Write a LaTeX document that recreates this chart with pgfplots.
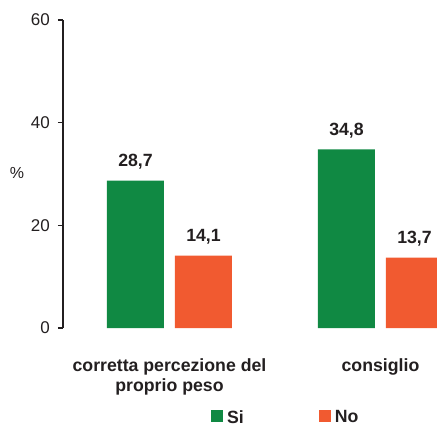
\documentclass[border=0pt]{standalone}
\usepackage{fontspec}
\setmainfont{Liberation Sans}
\usepackage{pgfplots}
\pgfplotsset{compat=1.18}
\definecolor{sigreen}{RGB}{16,137,67}
\definecolor{noorange}{RGB}{241,90,48}
\definecolor{txt}{RGB}{35,31,32}
\begin{document}
\begin{tikzpicture}
\useasboundingbox (-63pt,-96pt) rectangle (374pt,328pt);
\begin{axis}[
  at={(0pt,0pt)}, anchor=south west,
  scale only axis, width=374pt, height=308pt,
  xmin=-0.5047, xmax=1.2678, ymin=0, ymax=60,
  axis y line*=left, axis x line*=bottom,
  x axis line style={draw=none},
  y axis line style={line width=1.5pt, color=txt, -},
  ytick={0,20,40,60},
  ytick style={line width=1.5pt, color=txt},
  tick align=outside, major tick length=5pt,
  yticklabel style={font=\fontsize{17}{20}\selectfont, text=txt, anchor=east, inner sep=0pt, xshift=-8pt, /pgf/number format/assume math mode=true},
  xtick={0,1}, xtick style={draw=none},
  xticklabels={{corretta percezione del\\proprio peso},{consiglio}},
  xticklabel style={font=\bfseries\fontsize{17.7}{20}\selectfont, text=txt, align=center, anchor=north, inner sep=0pt, yshift=-25.8pt},
  every axis y label/.style={at={(rel axis cs:0,0.503)}, anchor=center, xshift=-46pt},
  ylabel={\%},
  ylabel style={font=\fontsize{16}{19}\selectfont, text=txt},
  ybar=11pt, bar width=57pt,
  nodes near coords,
  every node near coord/.append style={font=\bfseries\fontsize{17.7}{20}\selectfont, text=txt, anchor=base, yshift=14pt, inner sep=0pt,
    /pgf/number format/.cd, fixed, fixed zerofill, precision=1, use comma, assume math mode=true},
  legend columns=2,
  legend style={at={(0.3957,-0.2662)}, anchor=north west, draw=none, fill=none, inner sep=0pt,
    font=\bfseries\fontsize{17.7}{20}\selectfont, text=txt,
    nodes={inner sep=0pt}, column sep=4pt,
    /tikz/every even column/.append style={column sep=75pt}},
  legend image code/.code={\fill[#1] (0pt,-4.7pt) rectangle (12pt,7.3pt);},
]
\addplot[fill=sigreen, draw=none] coordinates {(0,28.7) (1,34.8)};
\addplot[fill=noorange, draw=none] coordinates {(0,14.1) (1,13.7)};
\legend{Si,No}
\end{axis}
\end{tikzpicture}
\end{document}
